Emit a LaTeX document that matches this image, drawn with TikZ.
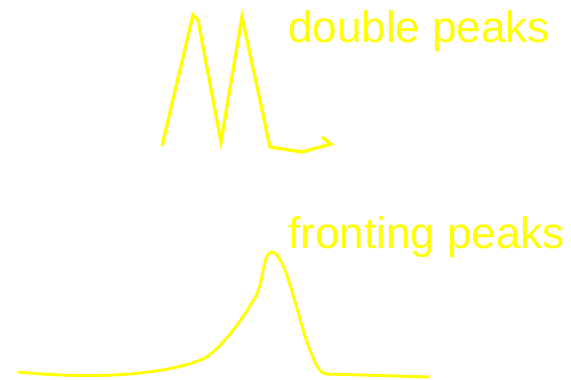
\documentclass[tikz,border=0pt]{standalone}
\usepackage{fontspec}
\setmainfont{Liberation Sans}
\definecolor{peakyellow}{RGB}{255,255,0}
\begin{document}
\begin{tikzpicture}[x=1pt,y=-1pt,
  curve/.style={draw=peakyellow,line width=3.3pt,line join=miter},
  lbl/.style={text=peakyellow,inner sep=0pt,anchor=base west,font=\fontsize{44}{50}\selectfont}]
\useasboundingbox (0,0) rectangle (571,380);
\draw[curve] (162,146) -- (193,15) -- (198,20) -- (221,142) -- (242,17) -- (270,147) -- (302,152) -- (331,144) -- (322,137);
\draw[curve,line width=2.9pt] (18,372) .. controls (100,380) and (170,374) .. (205,358)
  .. controls (225,345) and (245,315) .. (256,296)
  .. controls (264,280) and (263,252) .. (272,252)
  .. controls (285,252) and (298,318) .. (308,345)
  .. controls (316,366) and (320,374) .. (327,374) -- (429,377);
\node[lbl] (dp) at (288,42) {double peaks};
\node[lbl] (fp) at (288,248) {fronting peaks};
\end{tikzpicture}
\end{document}
